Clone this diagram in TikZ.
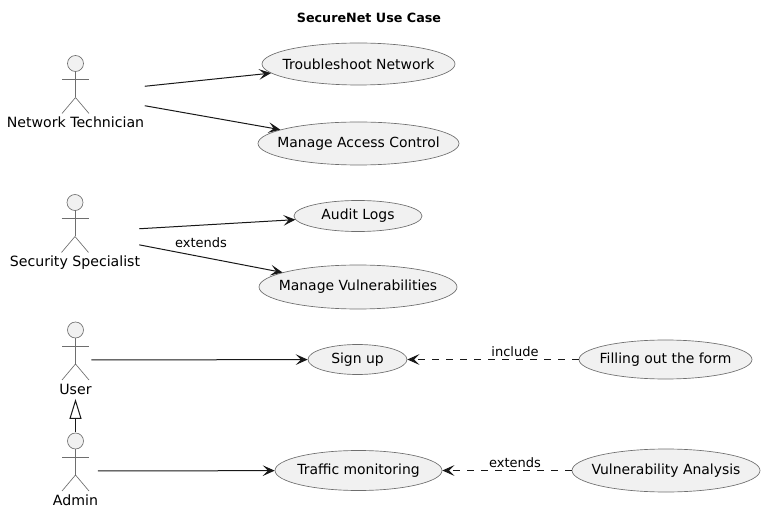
\documentclass[tikz,border=0pt]{standalone}
\usepackage{fontspec}
\setmainfont{DejaVu Sans}
\usetikzlibrary{shapes.geometric}
\usetikzlibrary{arrows.meta}
\definecolor{umlfill}{HTML}{F1F1F1}
\definecolor{umlline}{HTML}{181818}
\definecolor{umlthin}{HTML}{6E6E6E}
% keeps the ellipse at its given size
\newcommand{\uctext}[1]{\makebox[0pt]{#1}}
\tikzset{
  usecase/.style={ellipse, draw=umlthin, line width=0.5pt, fill=umlfill, inner sep=0pt, font=\fontsize{10.45pt}{12pt}\selectfont},
  actorbox/.style={inner sep=0pt, minimum height=58pt},
  stick/.style={draw=umlthin, line width=0.5pt},
  assoc/.style={draw=umlline, line width=0.75pt, -{Stealth[length=9pt, width=8pt, inset=4pt]}},
  depend/.style={assoc, dashed, dash pattern=on 5.25pt off 5.25pt},
  linktext/.style={font=\fontsize{9.75pt}{12pt}\selectfont, inner sep=0pt, anchor=base},
}
\begin{document}
\begin{tikzpicture}[x=0.75pt, y=-0.75pt]
            \useasboundingbox (0,0) rectangle (764,513);
            \node[font=\bfseries\fontsize{9.55pt}{12pt}\selectfont, anchor=base] (title) at (369,23) {SecureNet Use Case};

            % Actors
            \foreach \name/\x/\y/\w/\txt in {tech/75.5/63.5/138/Network Technician, spec/75/202.5/128/Security Specialist, user/75.5/330/31/User, admin/75.5/441/44/Admin} {
                \node[actorbox, minimum width=\w*0.75pt] (\name) at (\x,\y+30) {};
                \draw[stick, fill=umlfill] (\x,\y) circle (6pt);
                \draw[stick] (\x,\y+8) -- (\x,\y+34) (\x-13.5,\y+16) -- (\x+13.5,\y+16);
                \draw[stick] (\x-13.5,\y+50) -- (\x,\y+34) -- (\x+13.5,\y+50);
                \node[anchor=base, inner sep=0pt, font=\fontsize{10.6pt}{12pt}\selectfont] (\name label) at (\x,\y+64) {\txt};
            }

            % Use cases
            \node[usecase, minimum width=144.75pt, minimum height=31.5pt] (trouble) at (358.5,64) {\uctext{Troubleshoot Network}};
            \node[usecase, minimum width=150.75pt, minimum height=32.25pt] (access) at (358.5,143.5) {\uctext{Manage Access Control}};
            \node[usecase, minimum width=96pt, minimum height=23.25pt] (audit) at (358,216) {\uctext{Audit Logs}};
            \node[usecase, minimum width=148.5pt, minimum height=33pt] (vuln) at (358,287) {\uctext{Manage Vulnerabilities}};
            \node[usecase, minimum width=74.25pt, minimum height=22.5pt] (signup) at (357.5,359.5) {\uctext{Sign up}};
            \node[usecase, minimum width=125.25pt, minimum height=30pt] (traffic) at (358.5,470.5) {\uctext{Traffic monitoring}};
            \node[usecase, minimum width=129.75pt, minimum height=29.25pt] (form) at (665.5,359.5) {\uctext{Filling out the form}};
            \node[usecase, minimum width=141pt, minimum height=32.25pt] (analysis) at (666,470.5) {\uctext{Vulnerability Analysis}};

            % Associations
            \foreach \from/\to in {tech/trouble, tech/access, spec/audit, spec/vuln, user/signup, admin/traffic} {
                \draw[assoc] (\from) -- (\to);
            }
            \draw[depend] (form) -- (signup);
            \draw[depend] (analysis) -- (traffic);

            % Generalization
            \draw[line width=0.75pt, draw=umlline, -{Triangle[open, length=15pt, width=9pt]}] (admin.north) -- (user.south);

            \node[linktext] (extendsA) at (201,247.5) {extends};
            \node[linktext] (includeA) at (515,356) {include};
            \node[linktext] (extendsB) at (515,467) {extends};
        \end{tikzpicture}
\end{document}
